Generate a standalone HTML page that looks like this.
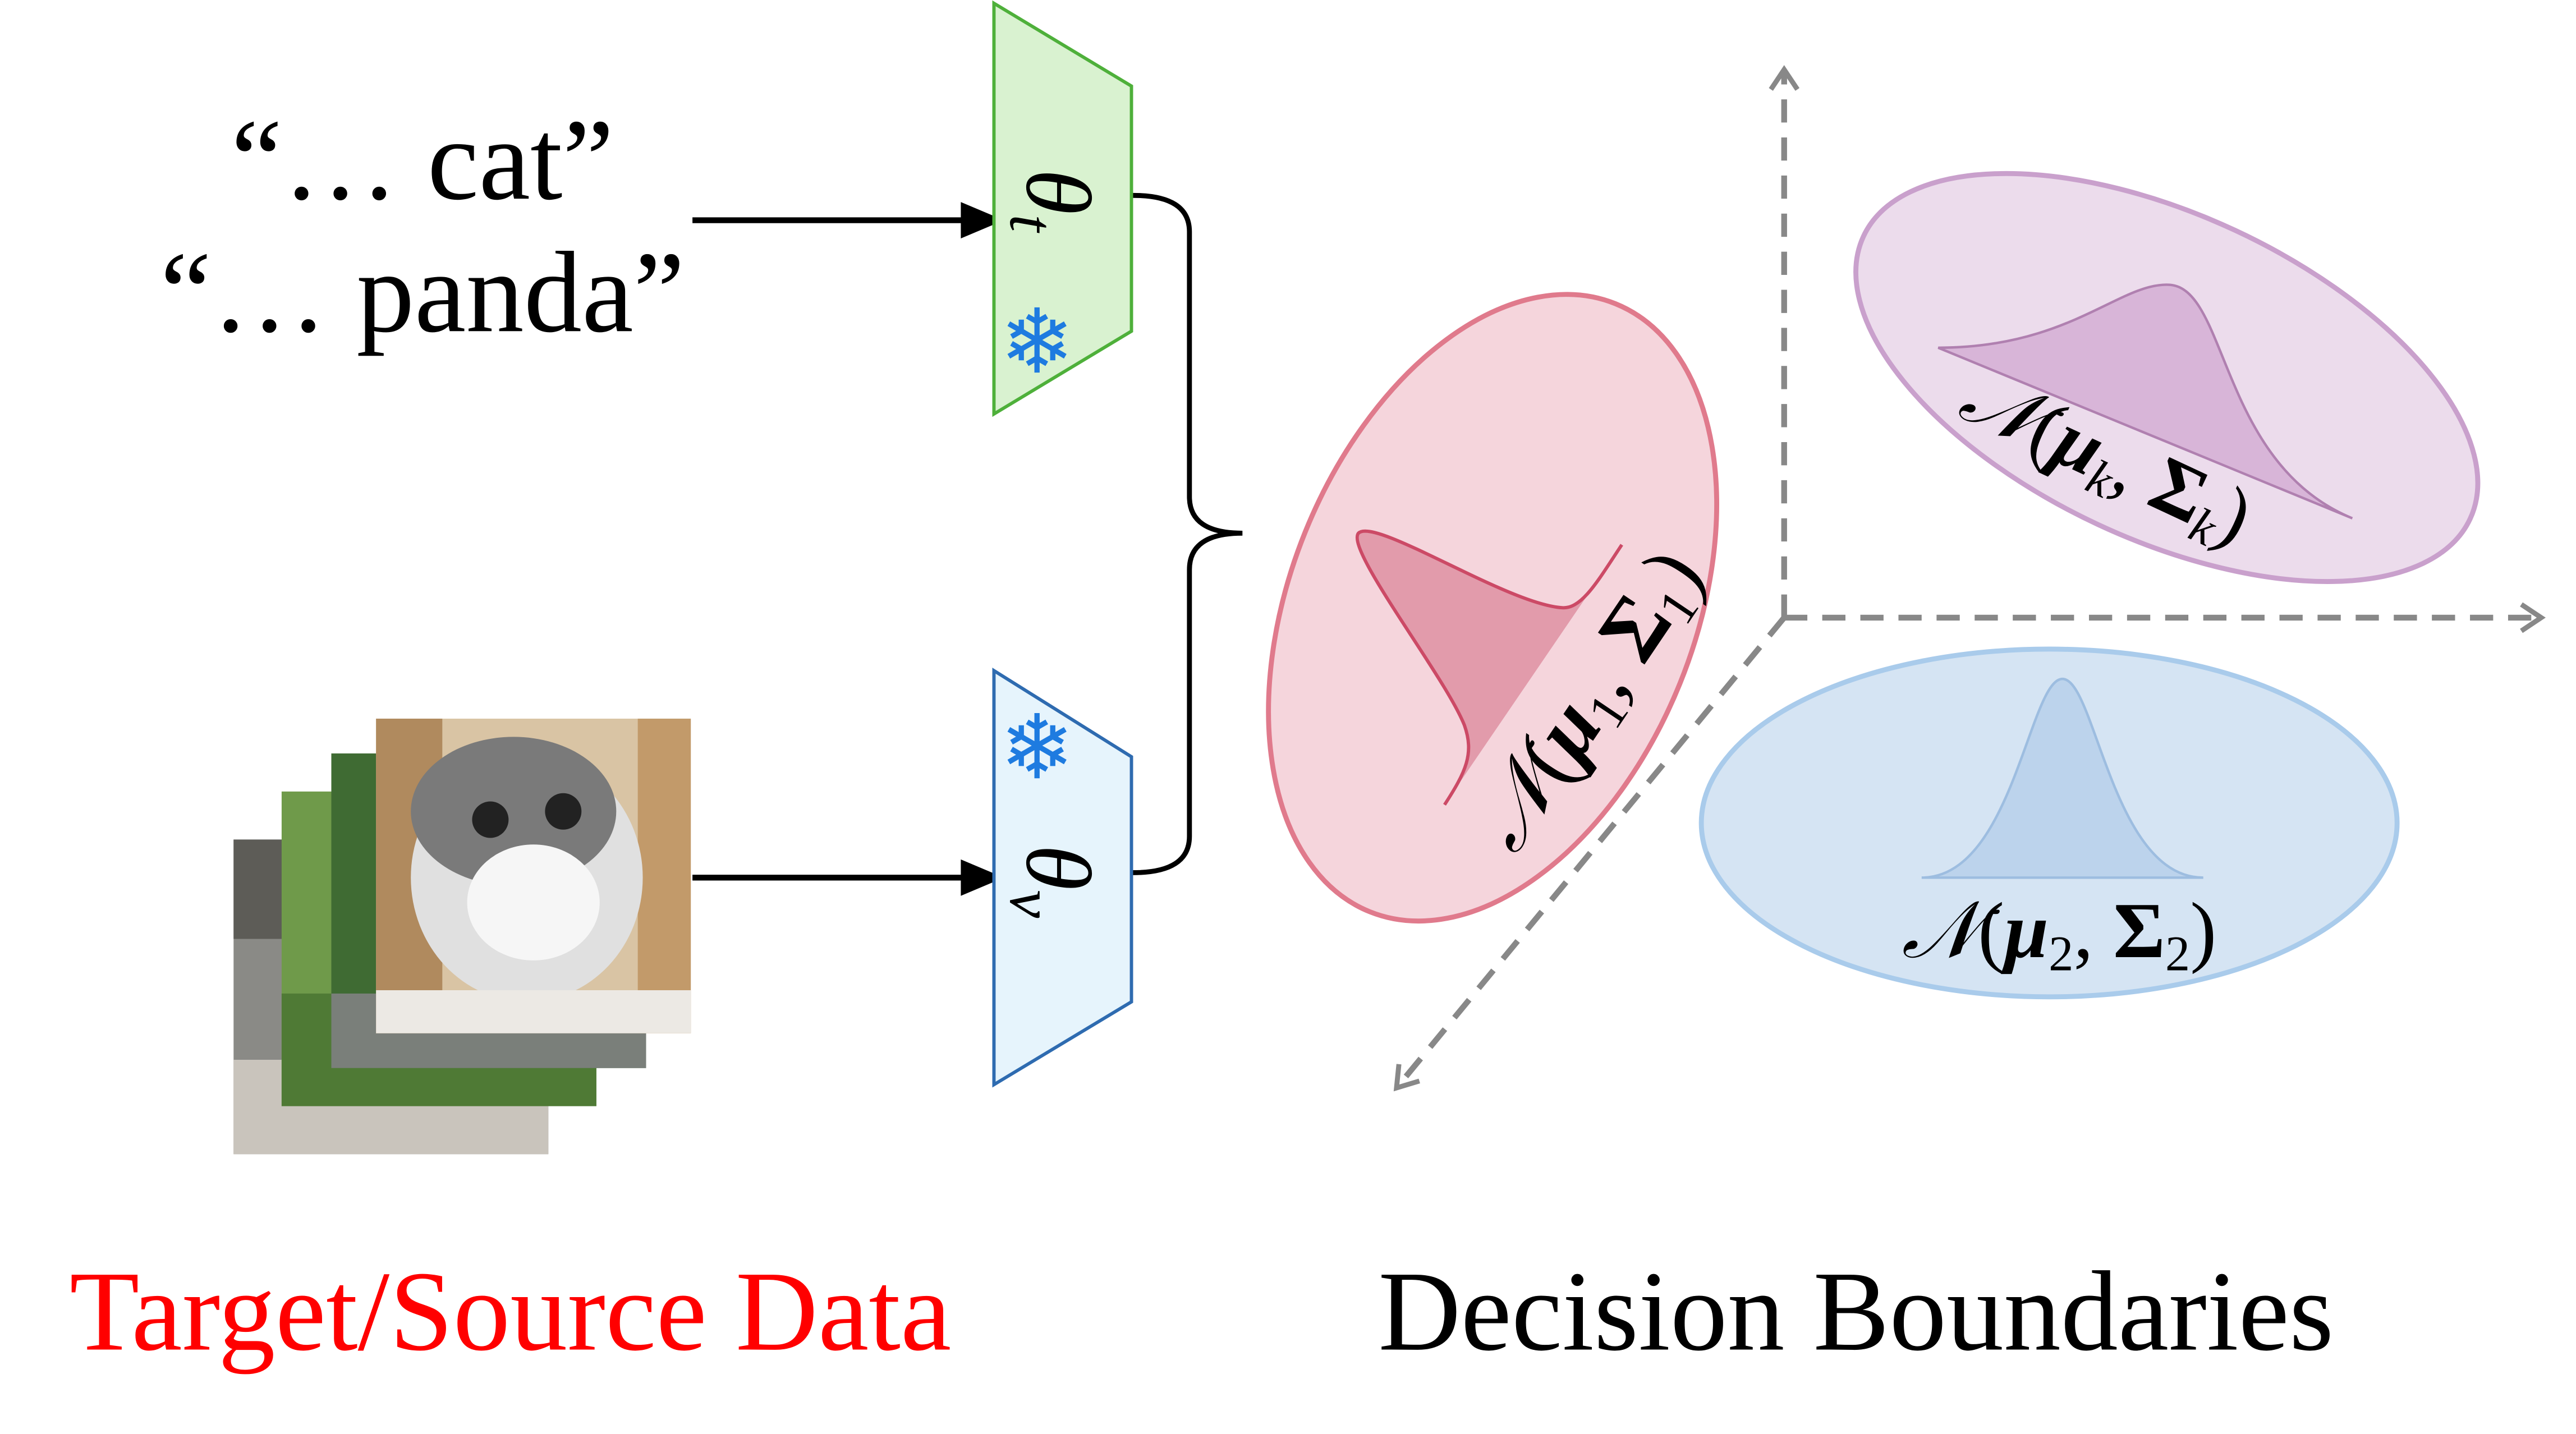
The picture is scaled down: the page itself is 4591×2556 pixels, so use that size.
<!DOCTYPE html>
<html><head><meta charset="utf-8"><style>
html,body{margin:0;padding:0;background:#fff;}
svg{display:block;}
</style></head><body>
<svg width="4591" height="2556" viewBox="0 0 1555 866" preserveAspectRatio="none" xmlns="http://www.w3.org/2000/svg">
<defs>
<marker id="oh" markerWidth="20" markerHeight="20" refX="14" refY="10" orient="auto" markerUnits="userSpaceOnUse">
<path d="M2,2 L14,10 L2,18" fill="none" stroke="#888" stroke-width="3"/>
</marker>
</defs>
<g font-family="Liberation Serif, serif">
<text x="255" y="120" font-size="70" text-anchor="middle">“… cat”</text>
<text x="255" y="200" font-size="70" text-anchor="middle">“… panda”</text>
<text x="42" y="815" font-size="69" fill="#ff0000">Target/Source Data</text>
<text x="832" y="815" font-size="69" fill="#000">Decision Boundaries</text>
</g>
<!-- arrows -->
<line x1="418" y1="133" x2="585" y2="133" stroke="#000" stroke-width="3.5"/>
<path d="M580,122 L606,133 L580,144 z" fill="#000"/>
<line x1="418" y1="530" x2="585" y2="530" stroke="#000" stroke-width="3.5"/>
<path d="M580,519 L606,530 L580,541 z" fill="#000"/>
<!-- trapezoids -->
<polygon points="600,2 683,52 683,200 600,250" fill="#d9f2d0" stroke="#4eb03a" stroke-width="2"/>
<polygon points="600,405 683,457 683,605 600,655" fill="#e6f4fc" stroke="#2e6bb0" stroke-width="2"/>
<text transform="translate(620,102) rotate(90)" font-family="Liberation Serif, serif" font-style="italic" font-size="56">θ<tspan font-size="38" dy="10">t</tspan></text>
<text transform="translate(620,510) rotate(90)" font-family="Liberation Serif, serif" font-style="italic" font-size="56">θ<tspan font-size="38" dy="10">v</tspan></text>
<text x="626" y="225" font-size="54" fill="#1e7be0" text-anchor="middle" font-family="DejaVu Sans, sans-serif">❄</text>
<text x="626" y="470" font-size="54" fill="#1e7be0" text-anchor="middle" font-family="DejaVu Sans, sans-serif">❄</text>
<!-- brace -->
<path d="M684,118 Q718,118 718,140 L718,300 Q718,322 750,322 Q718,322 718,344 L718,505 Q718,527 684,527" fill="none" stroke="#000" stroke-width="3"/>
<!-- images -->
<rect x="141" y="507" width="190" height="190" fill="#8a8a86"/>
<rect x="141" y="507" width="190" height="60" fill="#5d5c57"/>
<rect x="141" y="640" width="190" height="57" fill="#c9c4bc"/>
<rect x="170" y="478" width="190" height="190" fill="#6f9a4a"/>
<rect x="170" y="600" width="190" height="68" fill="#4f7a35"/>
<rect x="200" y="455" width="190" height="190" fill="#3f6b33"/>
<rect x="200" y="600" width="190" height="45" fill="#7a7f7a"/>
<rect x="227" y="434" width="190" height="190" fill="#d9c4a4"/>
<rect x="227" y="434" width="40" height="190" fill="#b08a5e"/>
<rect x="385" y="434" width="32" height="190" fill="#c29a6a"/>
<ellipse cx="318" cy="530" rx="70" ry="75" fill="#e0e0e0"/>
<ellipse cx="310" cy="490" rx="62" ry="45" fill="#7a7a7a"/>
<ellipse cx="322" cy="545" rx="40" ry="35" fill="#f6f6f6"/>
<circle cx="296" cy="495" r="11" fill="#222"/><circle cx="340" cy="490" r="11" fill="#222"/>
<rect x="227" y="598" width="190" height="26" fill="#ece9e4"/>
<!-- axes -->
<g stroke="#888" stroke-width="3.5" stroke-dasharray="14,9" fill="none">
<line x1="1077" y1="373" x2="1077" y2="42" marker-end="url(#oh)"/>
<line x1="1077" y1="373" x2="1534" y2="373" marker-end="url(#oh)"/>
<line x1="1077" y1="373" x2="843" y2="657" marker-end="url(#oh)"/>
</g>
<!-- ellipses -->
<ellipse cx="1308" cy="228" rx="202" ry="98" transform="rotate(25 1308 228)" fill="#ecdcec" stroke="#c9a0cc" stroke-width="3"/>
<ellipse cx="1237" cy="497" rx="210" ry="105" fill="#d5e4f3" stroke="#a9cbeb" stroke-width="3"/>
<ellipse cx="901" cy="367" rx="122" ry="198" transform="rotate(22 901 367)" fill="#f5d5dc" stroke="#e07a8c" stroke-width="3"/>
<!-- gaussians -->
<path d="M1170,210 C1250,210 1280,170 1310,172 C1345,175 1340,280 1420,313 L1170,210 z" fill="#d8b5d8" stroke="#b080b0" stroke-width="1.5"/>
<path d="M1160,530 C1215,530 1225,410 1245,410 C1265,410 1275,530 1330,530 z" fill="#bcd3ec" stroke="#9dbde0" stroke-width="1.5"/>
<path d="M872,486 C885,466 890,455 884,438 C872,408 812,332 820,322 C830,312 910,365 943,367 C955,368 965,350 979,329 L872,486 z" fill="#e29bab" stroke="none"/>
<path d="M872,486 C885,466 890,455 884,438 C872,408 812,332 820,322 C830,312 910,365 943,367 C955,368 965,350 979,329" fill="none" stroke="#cc4a66" stroke-width="2"/>
<!-- labels -->
<text transform="translate(1243,578)" font-family="Liberation Serif, serif" font-size="48" text-anchor="middle"><tspan font-style="italic">𝒩</tspan>(<tspan font-weight="bold" font-style="italic">μ</tspan><tspan font-size="30" dy="8">2</tspan><tspan dy="-8">, </tspan><tspan font-weight="bold">Σ</tspan><tspan font-size="30" dy="8">2</tspan><tspan dy="-8">)</tspan></text>
<text transform="translate(1265,290) rotate(25)" font-family="Liberation Serif, serif" font-size="48" text-anchor="middle"><tspan font-style="italic">𝒩</tspan>(<tspan font-weight="bold" font-style="italic">μ</tspan><tspan font-size="30" dy="8" font-style="italic">k</tspan><tspan dy="-8">, </tspan><tspan font-weight="bold">Σ</tspan><tspan font-size="30" dy="8" font-style="italic">k</tspan><tspan dy="-8">)</tspan></text>
<text transform="translate(972,432) rotate(-56)" font-family="Liberation Serif, serif" font-size="52" text-anchor="middle"><tspan font-style="italic">𝒩</tspan>(<tspan font-weight="bold" font-style="italic">μ</tspan><tspan font-size="32" dy="8">1</tspan><tspan dy="-8">, </tspan><tspan font-weight="bold">Σ</tspan><tspan font-size="32" dy="8">1</tspan><tspan dy="-8">)</tspan></text>
</svg>
</body></html>
